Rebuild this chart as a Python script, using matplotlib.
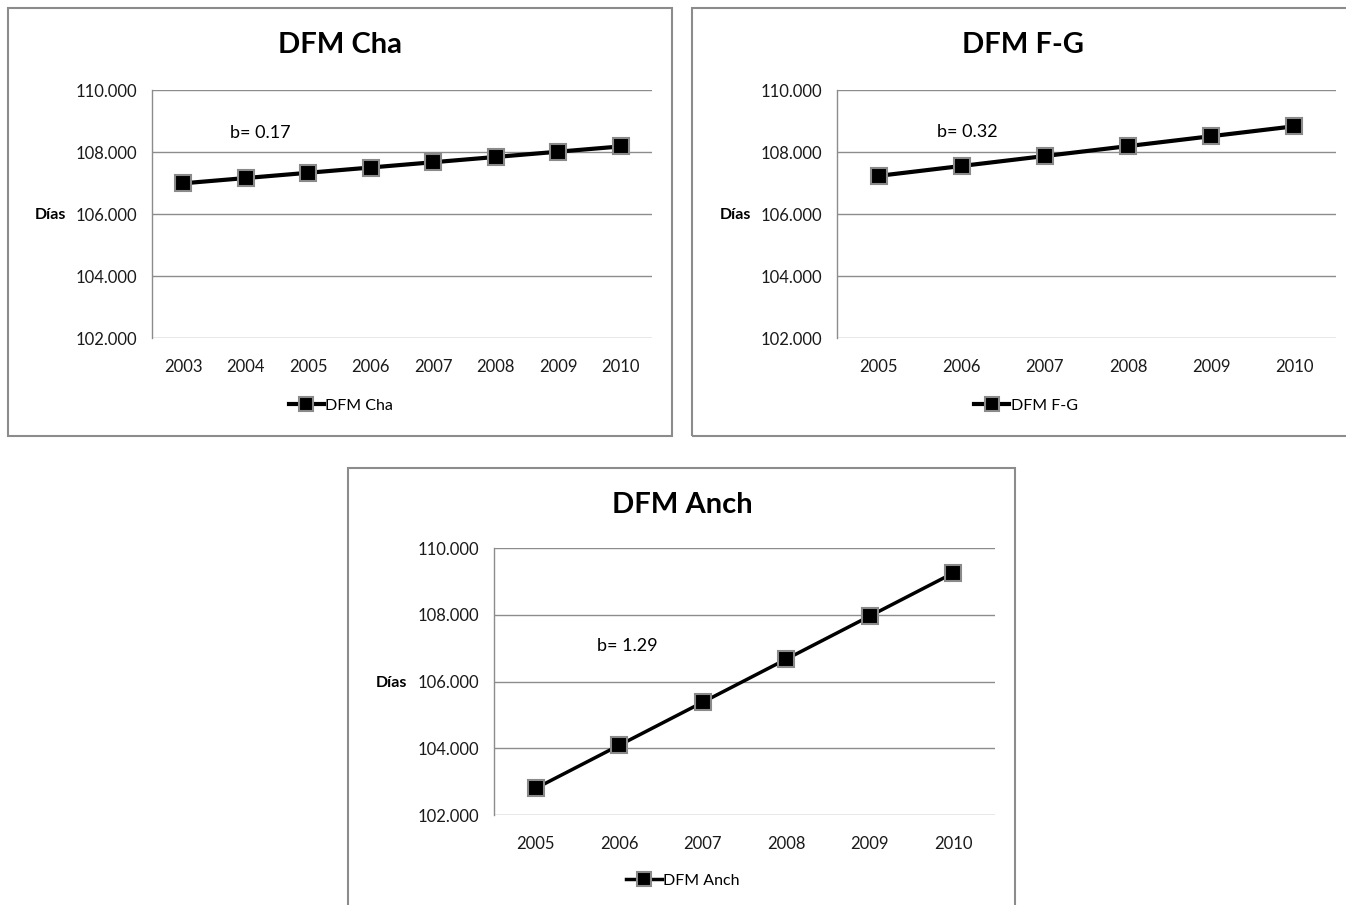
import matplotlib
matplotlib.use("Agg")
import matplotlib.pyplot as plt
from matplotlib.patches import Rectangle
from matplotlib.ticker import FuncFormatter

plt.rcParams['font.family'] = ['Lato', 'DejaVu Sans']

# Series data
years_cha = ["2003", "2004", "2005", "2006", "2007", "2008", "2009", "2010"]
dfm_cha = [106.99, 107.16, 107.33, 107.50, 107.67, 107.84, 108.01, 108.18]

years_fg = ["2005", "2006", "2007", "2008", "2009", "2010"]
dfm_fg = [107.23, 107.55, 107.87, 108.19, 108.51, 108.83]

years_anch = ["2005", "2006", "2007", "2008", "2009", "2010"]
dfm_anch = [102.80, 104.09, 105.38, 106.67, 107.96, 109.25]

titles = ["DFM Cha", "DFM F-G", "DFM Anch"]
slopes = ["b= 0.17", "b= 0.32", "b= 1.29"]
y_ticks = [102, 104, 106, 108, 110]

W, H = 1346, 905
fig = plt.figure(figsize=(W / 100, H / 100), dpi=100)


def fx(px):
    return px / W


def fy(py):
    return 1 - py / H


def panel(box, plot_area, categories, values, title, slope, title_xy, dias_xy,
          slope_xy, legend_xy, lw):
    x0, y0, x1, y1 = box
    fig.patches.append(Rectangle((fx(x0), fy(y1)), fx(x1 - x0), (y1 - y0) / H,
                                 transform=fig.transFigure, fill=False,
                                 edgecolor="#8c8c8c", linewidth=1.5, zorder=0))
    L, T, R, B = plot_area
    ax = fig.add_axes([fx(L), fy(B), fx(R - L), (B - T) / H])
    n = len(categories)
    xs = list(range(n))
    ax.plot(xs, values, color="black", linewidth=lw, marker="s",
            markersize=11, markerfacecolor="black", markeredgecolor="#8a8a8a",
            markeredgewidth=1.5, label=title, zorder=3, clip_on=False)
    ax.set_xlim(-0.5, n - 0.5)
    ax.set_ylim(102, 110)
    ax.set_yticks(y_ticks)
    ax.yaxis.set_major_formatter(FuncFormatter(lambda v, p: f"{v:.3f}"))
    ax.set_xticks(xs)
    ax.set_xticklabels(categories)
    ax.grid(axis="y", color="#8c8c8c", linewidth=1)
    ax.set_axisbelow(True)
    for s in ("top", "right", "bottom"):
        ax.spines[s].set_visible(False)
    ax.spines["left"].set_color("#8c8c8c")
    ax.spines["left"].set_linewidth(1)
    ax.tick_params(axis="both", length=0, labelsize=12, colors="#1a1a1a")
    ax.tick_params(axis="y", pad=11)
    ax.tick_params(axis="x", pad=15)
    fig.text(fx(title_xy[0]), fy(title_xy[1]), title, ha="center", va="center",
             fontsize=21, fontweight="bold")
    fig.text(fx(dias_xy[0]), fy(dias_xy[1]), "Días", ha="center", va="center",
             fontsize=11.5, fontweight="bold")
    fig.text(fx(slope_xy[0]), fy(slope_xy[1]), slope, ha="center", va="center",
             fontsize=13)
    ax.legend(loc="center", bbox_to_anchor=(fx(legend_xy[0]), fy(legend_xy[1])),
              bbox_transform=fig.transFigure, frameon=False, fontsize=11.5,
              handlelength=2.2, handletextpad=0.1, markerscale=0.95)
    return ax


panel((8, 8, 672, 436), (152, 90, 652, 338), years_cha, dfm_cha, titles[0],
      slopes[0], (340, 45), (50, 215), (260, 133), (341, 406), 3)
panel((692, 8, 1352, 436), (837, 90, 1336, 338), years_fg, dfm_fg, titles[1],
      slopes[1], (1023, 45), (735, 215), (967, 132), (1026, 406), 3)
panel((348, 468, 1015, 912), (494, 548, 995, 815), years_anch, dfm_anch,
      titles[2], slopes[2], (682, 505), (391, 683), (627, 646), (683, 881), 2.5)

fig.savefig("out.png", dpi=100)
